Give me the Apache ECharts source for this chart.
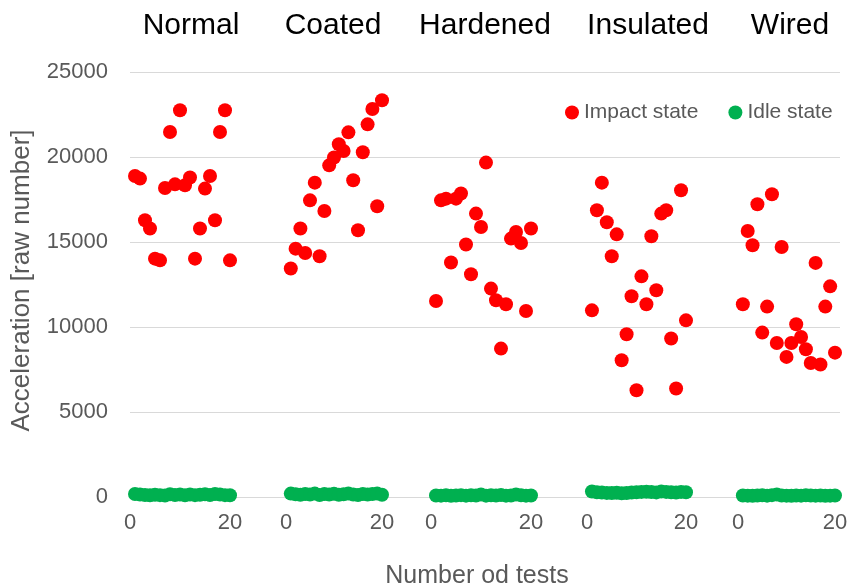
<!DOCTYPE html>
<html><head><meta charset="utf-8">
<script src="https://cdn.jsdelivr.net/npm/echarts@6/dist/echarts.min.js"></script>
<style>html,body{margin:0;padding:0;background:#fff}#c{width:848px;height:588px}</style>
</head><body><div id="c"></div>
<script>
const panels = ['Normal', 'Coated', 'Hardened', 'Insulated', 'Wired'];
const tests = [1,2,3,4,5,6,7,8,9,10,11,12,13,14,15,16,17,18,19,20];
const yTicks = [0, 5000, 10000, 15000, 20000, 25000];

const normalImpact    = [18880,18730,16280,15790,14020,13920,18180,21470,18390,22750,18340,18790,14020,15790,18140,18880,16280,21470,22750,13920];
const coatedImpact    = [13440,14610,15790,14350,17450,18490,14160,16820,19510,19970,20750,20350,21450,18630,15690,20280,21920,22820,17100,23340];
const hardenedImpact  = [11530,17450,17550,13790,17550,17850,14850,13100,16670,15880,19670,12260,11570,8730,11340,15200,15590,14940,10940,15790];
const insulatedImpact = [10980,16870,18490,16160,14160,15450,8040,9570,11810,6280,12980,11340,15340,12160,16670,16870,9320,6380,18040,10390];
const wiredImpact     = [11340,15650,14810,17220,9670,11200,17810,9060,14710,8240,9060,10160,9410,8690,7880,13770,7790,11200,12390,8490];

const normalIdle    = [180,150,120,100,130,110,90,160,120,140,100,150,110,130,160,120,180,140,110,100];
const coatedIdle    = [200,160,130,180,150,200,120,170,140,190,130,160,200,150,120,180,140,170,200,130];
const hardenedIdle  = [90,80,100,70,90,110,80,100,90,150,80,100,90,120,80,90,150,100,80,90];
const insulatedIdle = [320,280,260,240,230,250,220,230,260,280,300,310,290,270,320,300,280,260,300,280];
const wiredIdle     = [90,80,70,90,100,80,110,150,90,80,70,90,80,100,90,80,90,70,80,90];

const impactData = [normalImpact, coatedImpact, hardenedImpact, insulatedImpact, wiredImpact];
const idleData = [normalIdle, coatedIdle, hardenedIdle, insulatedIdle, wiredIdle];

const FONT = 'Liberation Sans';
const GRAY = '#595959';
const TOP = 72, BOTTOM = 91;
const gridPos = [[130,100],[286,96],[431,100],[587,99],[738,97]];
const titleX = [186, 328, 480, 643, 785];

const grids = [{left: 130, right: 8, top: TOP, bottom: BOTTOM, outerBoundsMode: 'none', containLabel: false}];
const xAxes = [{
  gridIndex: 0, type: 'value', min: 0, max: 20, show: true,
  axisLine: {show: false}, axisTick: {show: false}, axisLabel: {show: false}, splitLine: {show: false},
  name: 'Number od tests', nameLocation: 'middle', nameGap: 67,
  nameTextStyle: {color: GRAY, fontFamily: FONT, fontSize: 25, padding: [0, 16, 0, 0]}
}];
const yAxes = [{
  gridIndex: 0, type: 'value', min: yTicks[0], max: yTicks[yTicks.length-1], interval: 5000,
  axisLine: {show: false}, axisTick: {show: false},
  axisLabel: {color: GRAY, fontFamily: FONT, fontSize: 22, margin: 22, formatter: v => String(v)},
  splitLine: {lineStyle: {color: '#d9d9d9', width: 1}},
  name: 'Acceleration [raw number]', nameLocation: 'middle', nameGap: 95,
  nameTextStyle: {color: GRAY, fontFamily: FONT, fontSize: 26, padding: [0, 0, 0, 8]}
}];
const series = [];
panels.forEach((p, i) => {
  const gi = i + 1;
  grids.push({left: gridPos[i][0], width: gridPos[i][1], top: TOP, bottom: BOTTOM, outerBoundsMode: 'none', containLabel: false});
  xAxes.push({
    gridIndex: gi, type: 'value', min: 0, max: 20, interval: 20,
    axisLine: {show: false}, axisTick: {show: false}, splitLine: {show: false},
    axisLabel: {color: GRAY, fontFamily: FONT, fontSize: 22, margin: 15}
  });
  yAxes.push({gridIndex: gi, type: 'value', min: 0, max: 25000, show: false, splitLine: {show: false}});
  series.push({
    name: 'Impact state', type: 'scatter', xAxisIndex: gi, yAxisIndex: gi, clip: false,
    symbolSize: 14, itemStyle: {color: '#ff0000', opacity: 1},
    data: tests.map((t, k) => [t, impactData[i][k]])
  });
  series.push({
    name: 'Idle state', type: 'scatter', xAxisIndex: gi, yAxisIndex: gi, clip: false,
    symbolSize: 14, itemStyle: {color: '#00b050', opacity: 1},
    data: tests.map((t, k) => [t, idleData[i][k]])
  });
});

const chart = echarts.init(document.getElementById('c'), null, {renderer: 'canvas'});
chart.setOption({
  animation: false,
  backgroundColor: '#fff',
  title: panels.map((p, i) => ({
    text: p, left: titleX[i], top: 6, textAlign: 'center',
    textStyle: {color: '#000', fontFamily: FONT, fontSize: 30, fontWeight: 'normal'}
  })),
  legend: {
    data: ['Impact state', 'Idle state'], left: 560, top: 97, icon: 'circle',
    itemWidth: 14, itemHeight: 14, itemGap: 30,
    textStyle: {color: GRAY, fontFamily: FONT, fontSize: 21}
  },
  grid: grids, xAxis: xAxes, yAxis: yAxes, series: series
});
</script></body></html>
